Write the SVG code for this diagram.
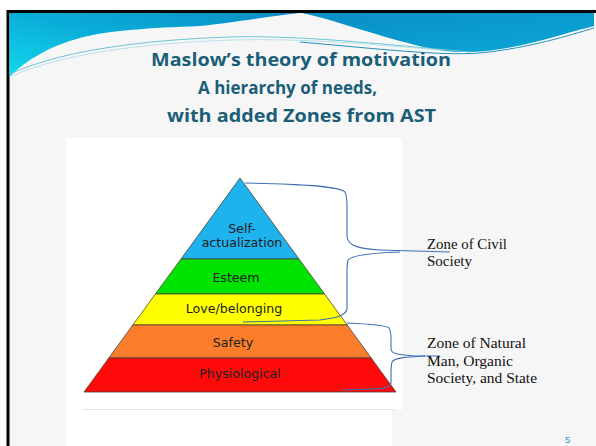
<svg xmlns="http://www.w3.org/2000/svg" width="596" height="446" viewBox="0 0 596 446">
  <defs>
    <linearGradient id="gLeft" x1="0" y1="1" x2="1" y2="0">
      <stop offset="0" stop-color="#12d8ee"/>
      <stop offset="0.5" stop-color="#0aaed8"/>
      <stop offset="1" stop-color="#0a8cc4"/>
    </linearGradient>
    <linearGradient id="gRight" x1="0" y1="0" x2="1" y2="1">
      <stop offset="0" stop-color="#0a8fc6"/>
      <stop offset="1" stop-color="#0aa6d8"/>
    </linearGradient>
    <style>
      .title { font-family: "Open Sans", "Liberation Sans", sans-serif; font-weight: 700; font-size: 18.5px; fill: #1b5e78; }
      .lvl { font-family: "DejaVu Sans", sans-serif; font-size: 12.6px; fill: #222; text-anchor: middle; }
      .band { stroke: #4a4236; stroke-width: 0.8; }
      .zone { font-family: "Liberation Serif", "DejaVu Serif", serif; font-size: 14.5px; fill: #111; }
      .brace { fill: none; stroke: #3f6fb5; stroke-width: 1.1; }
    </style>
  </defs>

  <!-- page -->
  <rect x="0" y="0" width="596" height="446" fill="#ffffff"/>
  <rect x="8" y="11.5" width="590" height="440" fill="#f6f6f6" stroke="#000" stroke-width="3"/>

  <!-- header swoosh -->
  <g id="header">
    <path d="M9.5,13 H300 C270,16 240,22 200,26 C150,28 110,30 80,38 C50,46 26,60 9.5,77 Z" fill="url(#gLeft)"/>
    <path d="M302,13 H594 V26 C560,34 520,50 470,52 C440,53 420,46 400,41 C360,30 330,19 302,13 Z" fill="url(#gRight)"/>
    <path d="M10,74 C60,51 140,40 230,37 C300,35 380,44 470,52" fill="none" stroke="#6cc6d8" stroke-width="1"/>
    <path d="M12,76 C62,54 142,43 232,40 C300,38 370,44 440,50" fill="none" stroke="#a8dde6" stroke-width="0.8"/>
    <path d="M300,42 C380,49 440,56 480,53 C530,48 570,35 594,28" fill="none" stroke="#2a8fc0" stroke-width="1"/>
  </g>

  <!-- title -->
  <g id="title">
    <text class="title" x="151" y="66" textLength="300" lengthAdjust="spacingAndGlyphs">Maslow’s theory of motivation</text>
    <text class="title" x="198" y="94" textLength="179" lengthAdjust="spacingAndGlyphs">A hierarchy of needs,</text>
    <text class="title" x="167" y="122" textLength="269" lengthAdjust="spacingAndGlyphs">with added Zones from AST</text>
  </g>

  <!-- picture background -->
  <rect x="66" y="138" width="336" height="272" fill="#ffffff"/>
  <rect x="66" y="410" width="326" height="36" fill="#ffffff"/>
  <line x1="83" y1="409.5" x2="395" y2="409.5" stroke="#e2e2e2" stroke-width="1"/>

  <!-- pyramid -->
  <g id="self-actualization">
    <polygon class="band" points="240,178 299,259 181,259" fill="#1eb2ee"/>
    <text class="lvl" x="242" y="233">Self-</text>
    <text class="lvl" x="242" y="247">actualization</text>
  </g>
  <g id="esteem">
    <polygon class="band" points="181,259 299,259 324.6,294 155.4,294" fill="#00e300"/>
    <text class="lvl" x="236" y="282">Esteem</text>
  </g>
  <g id="love">
    <polygon class="band" points="155.4,294 324.6,294 347.2,325 132.8,325" fill="#ffff00"/>
    <text class="lvl" x="234" y="313">Love/belonging</text>
  </g>
  <g id="safety">
    <polygon class="band" points="132.8,325 347.2,325 371.2,358 108.8,358" fill="#fb7d2c"/>
    <text class="lvl" x="233" y="347">Safety</text>
  </g>
  <g id="physiological">
    <polygon class="band" points="108.8,358 371.2,358 396,392 84,392" fill="#fe0a0a"/>
    <text class="lvl" x="240" y="378">Physiological</text>
  </g>

  <!-- connectors (braces) -->
  <g id="connectors">
    <path class="brace" d="M245,183 C300,184 338,186 345,192 C347,196 347,200 347,206 L347,236 C347,246 360,249 380,250 L450,252"/>
    <path class="brace" d="M400,252 C370,253 352,255 348,260 C347,264 347,268 347,272 L347,308 C347,316 335,318 320,320 L243,322"/>
    <path class="brace" d="M347,323 C372,324 385,325 389,328 C391,331 391,335 391,340 L391,349 C391,354 400,355 415,356 L440,356"/>
    <path class="brace" d="M425,356 C405,357 394,358 392,362 C391,366 391,370 391,374 L391,383 C391,388 380,389 370,389 L342,390"/>
  </g>

  <!-- zone labels -->
  <g id="zone-civil">
    <text class="zone" x="427" y="249" textLength="80" lengthAdjust="spacingAndGlyphs">Zone of Civil</text>
    <text class="zone" x="427" y="266" textLength="45" lengthAdjust="spacingAndGlyphs">Society</text>
  </g>
  <g id="zone-natural">
    <text class="zone" x="427" y="348" textLength="99" lengthAdjust="spacingAndGlyphs">Zone of Natural</text>
    <text class="zone" x="427" y="366" textLength="86" lengthAdjust="spacingAndGlyphs">Man, Organic</text>
    <text class="zone" x="427" y="383" textLength="110" lengthAdjust="spacingAndGlyphs">Society, and State</text>
  </g>

  <text x="565" y="443" font-family="Liberation Sans, sans-serif" font-size="9.5" fill="#4a8ab0">5</text>
</svg>
